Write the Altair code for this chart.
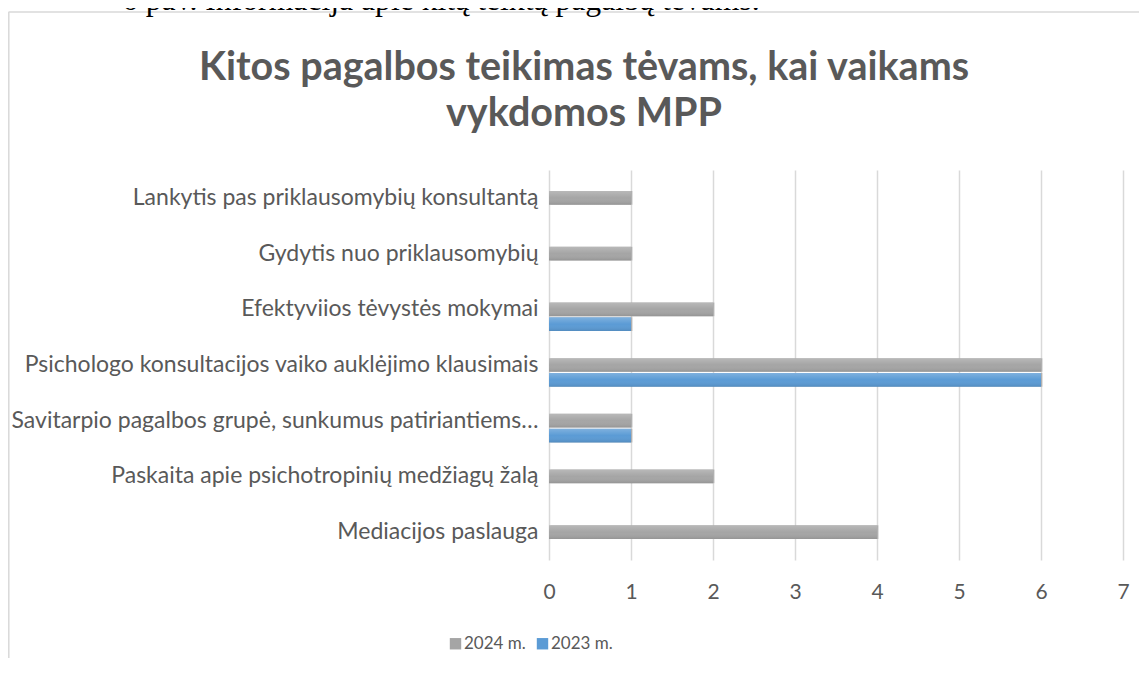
import altair as alt
import pandas as pd

categories = [
    "Lankytis pas priklausomybių konsultantą",
    "Gydytis nuo priklausomybių",
    "Efektyviios tėvystės mokymai\u00a0",
    "Psichologo konsultacijos vaiko auklėjimo klausimais",
    "Savitarpio pagalbos grupė, sunkumus patiriantiems…",
    "Paskaita apie psichotropinių medžiagų žalą",
    "Mediacijos paslauga",
]
values_2024 = [1, 1, 2, 6, 1, 2, 4]
values_2023 = [0, 0, 1, 6, 1, 0, 0]
series = ["2024 m.", "2023 m."]
series_colors = ["#A5A5A5", "#5B9BD5"]
x_ticks = [0, 1, 2, 3, 4, 5, 6, 7]
title_lines = ["Kitos pagalbos teikimas tėvams, kai vaikams", "vykdomos MPP"]
caption = "6 pav. Informacija apie kitą teiktą pagalbą tėvams."

rows = []
for c, a, b in zip(categories, values_2024, values_2023):
    if a:
        rows.append({"cat": c, "series": series[0], "value": a})
    if b:
        rows.append({"cat": c, "series": series[1], "value": b})
df = pd.DataFrame(rows)

W, H = 574, 390
PL, PT, PR, PB = 541, 162, 16, 98
TXT = "#595959"
FONT = "Lato"

y_enc = alt.Y(
    "cat:N",
    sort=categories,
    scale=alt.Scale(paddingInner=0.22, paddingOuter=0.11),
    axis=alt.Axis(
        title=None, labelFont=FONT, labelFontSize=23, labelColor=TXT,
        labelPadding=11, domain=False, ticks=False, labelLimit=700, grid=False,
    ),
)
yoff = alt.YOffset(
    "series:N",
    scale=alt.Scale(domain=["_"] + series, paddingInner=0.08, paddingOuter=0),
)
x_enc = alt.X(
    "value:Q",
    scale=alt.Scale(domain=[0, 7], nice=False),
    axis=alt.Axis(
        values=x_ticks, title=None, grid=True, gridColor="#d9d9d9", gridWidth=1.5,
        domain=False, ticks=False, labelFont=FONT, labelFontSize=21,
        labelColor=TXT, labelPadding=21, format="d", labelFlush=False,
    ),
)

base = alt.Chart(df)

shadow1 = base.mark_bar(color="#000000", opacity=0.09, xOffset=2, yOffset=4).encode(
    x=x_enc, y=y_enc, yOffset=yoff
)
shadow2 = base.mark_bar(color="#000000", opacity=0.10, xOffset=1, yOffset=2).encode(
    x=x_enc, y=y_enc, yOffset=yoff
)
bars = base.mark_bar().encode(
    x=x_enc,
    y=y_enc,
    yOffset=yoff,
    color=alt.Color(
        "series:N",
        scale=alt.Scale(domain=series, range=series_colors),
        legend=alt.Legend(
            title=None, orient="none", legendX=-102, legendY=465,
            direction="horizontal", symbolType="square", symbolSize=130,
            symbolStrokeWidth=0, labelFont=FONT, labelFontSize=17,
            labelColor=TXT, columnPadding=8, labelOffset=0,
        ),
    ),
)
gloss = base.mark_bar(
    color=alt.Gradient(
        gradient="linear", x1=0, y1=0, x2=0, y2=1,
        stops=[
            alt.GradientStop(color="rgba(255,255,255,0.22)", offset=0),
            alt.GradientStop(color="rgba(255,255,255,0)", offset=0.5),
            alt.GradientStop(color="rgba(0,0,0,0.10)", offset=1),
        ],
    )
).encode(x=x_enc, y=y_enc, yOffset=yoff)

one = alt.Data(values=[{}])
frame_top = alt.Chart(one).mark_rule(color="#d9d9d9", strokeWidth=1.5).encode(
    x=alt.value(-PL + 0.5), x2=alt.value(W + PR), y=alt.value(-PT + 4)
)
frame_left = alt.Chart(one).mark_rule(color="#d9d9d9", strokeWidth=1.5).encode(
    x=alt.value(-PL + 0.8), y=alt.value(-PT + 4), y2=alt.value(H + PB)
)
cap = alt.Chart(one).mark_text(
    font="Liberation Serif", fontSize=31.7, color="#000000", align="left",
    baseline="alphabetic",
).encode(x=alt.value(-427), y=alt.value(-PT + 2), text=alt.value(caption))

title1 = alt.Chart(one).mark_text(
    font=FONT, fontSize=39.5, fontWeight="bold", color=TXT, align="center",
    baseline="alphabetic",
).encode(x=alt.value(35), y=alt.value(-90), text=alt.value(title_lines[0]))
title2 = alt.Chart(one).mark_text(
    font=FONT, fontSize=39.5, fontWeight="bold", color=TXT, align="center",
    baseline="alphabetic",
).encode(x=alt.value(35), y=alt.value(-44), text=alt.value(title_lines[1]))

chart = alt.layer(
    frame_top, frame_left, cap, title1, title2, shadow1, shadow2, bars, gloss
).properties(
    width=W,
    height=H,
    autosize=alt.AutoSizeParams(type="none"),
    padding={"left": PL, "top": PT, "right": PR, "bottom": PB},
    background="white",
).configure_view(strokeWidth=0)

chart.save("out.html", embed_options={"renderer": "svg", "actions": False})
